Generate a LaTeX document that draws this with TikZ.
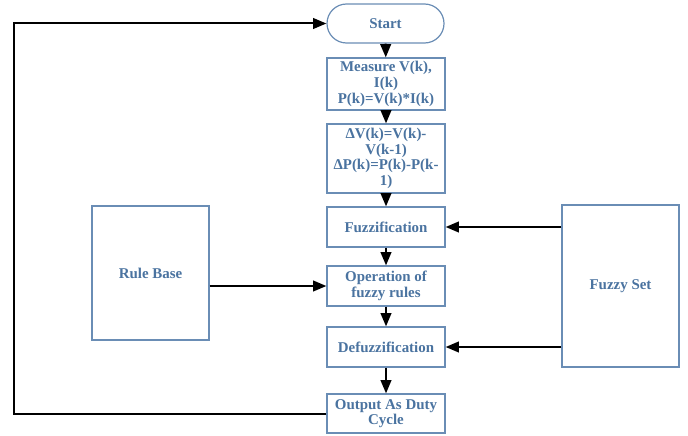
\documentclass[tikz,border=0pt]{standalone}
\usepackage{fontspec}
\setmainfont{Liberation Serif}
\usetikzlibrary{arrows.meta,shapes.misc}
\definecolor{boxline}{HTML}{6A8DB5}
\definecolor{boxtext}{HTML}{4A73A0}
\tikzset{
  box/.style={draw=boxline, line width=0.9pt, fill=white, text=boxtext, font=\bfseries\fontsize{11.2}{11.7}\selectfont, align=center, inner sep=0pt},
  arr/.style={-{Triangle[length=10pt,width=8pt]}, line width=1.5pt, black},
}
\begin{document}
\begin{tikzpicture}[x=0.75pt,y=-0.75pt]
\useasboundingbox (0,0) rectangle (688,435);
\node[box, rounded rectangle, minimum width=117*0.75pt, minimum height=39*0.75pt] (start) at (385.5,23.5) {Start};
\node[box, minimum width=118*0.75pt, minimum height=52*0.75pt] (meas) at (386,84) {Measure V(k),\\I(k)\\P(k)=V(k)*I(k)};
\node[box, minimum width=118*0.75pt, minimum height=69*0.75pt] (delta) at (386,158.5) {ΔV(k)=V(k)-\\V(k-1)\\ΔP(k)=P(k)-P(k-\\1)};
\node[box, minimum width=118*0.75pt, minimum height=40*0.75pt] (fuzz) at (386,227) {Fuzzification};
\node[box, minimum width=118*0.75pt, minimum height=40*0.75pt] (oper) at (386,286) {Operation of\\fuzzy rules};
\node[box, minimum width=118*0.75pt, minimum height=40*0.75pt] (defuzz) at (386,347) {Defuzzification};
\node[box, minimum width=118*0.75pt, minimum height=39*0.75pt] (out) at (386,413.5) {Output As Duty\\Cycle};
\node[box, minimum width=117*0.75pt, minimum height=134*0.75pt] (rule) at (150.5,273) {Rule Base};
\node[box, minimum width=117*0.75pt, minimum height=162*0.75pt] (fset) at (620.5,286) {Fuzzy Set};
\coordinate (c1) at (14,413.5);
\coordinate (c2) at (14,23.5);
\draw[arr] (start) -- (meas);
\draw[arr] (meas) -- (delta);
\draw[arr] (delta) -- (fuzz);
\draw[arr] (fuzz) -- (oper);
\draw[arr] (oper) -- (defuzz);
\draw[arr] (defuzz) -- (out);
\draw[arr] (fset.west |- fuzz) -- (fuzz);
\draw[arr] (fset.west |- defuzz) -- (defuzz);
\draw[arr] (rule.east |- oper) -- (oper);
\draw[arr] (out.west) -- (c1) -- (c2) -- (start.west);
\end{tikzpicture}
\end{document}
